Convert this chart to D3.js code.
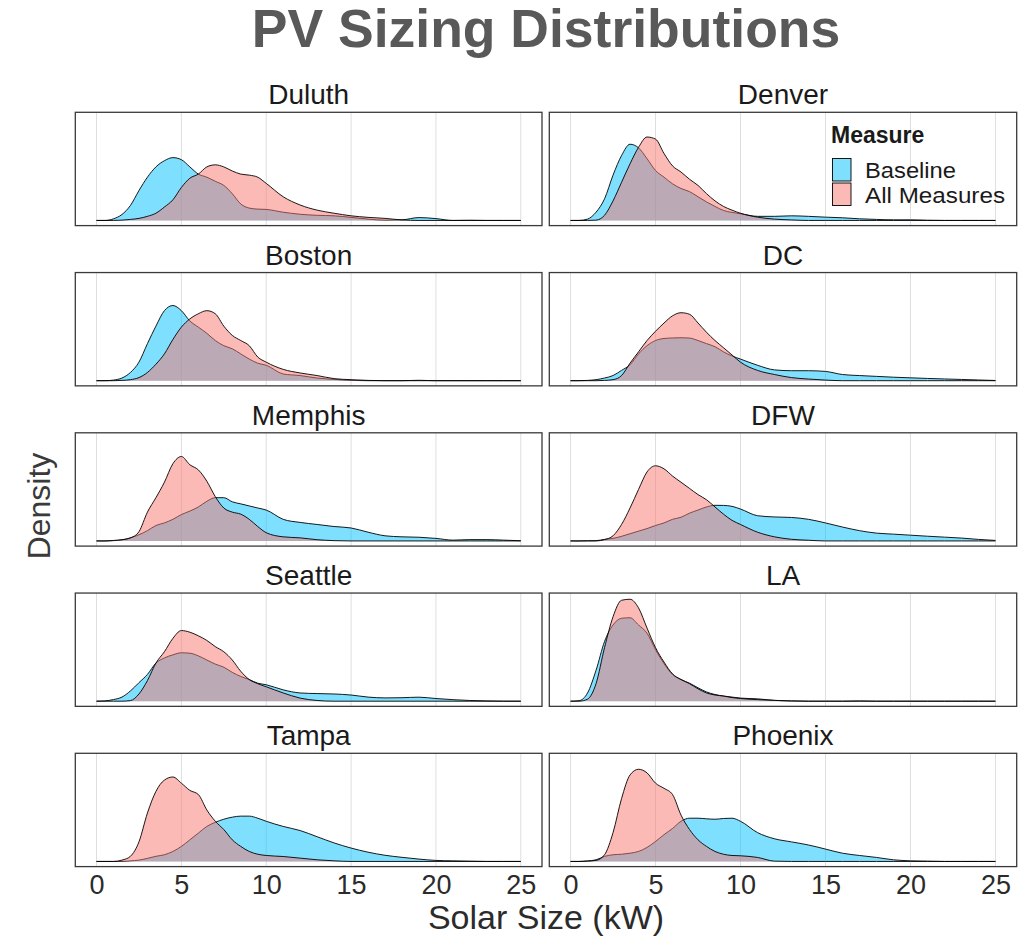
<!DOCTYPE html>
<html><head><meta charset="utf-8">
<script src="https://cdn.jsdelivr.net/npm/d3@7"></script>
<style>
body{margin:0;background:#fff}
text{font-family:"Liberation Sans", Arial, sans-serif}
</style>
</head><body>
<svg id="chart" width="1030" height="937"></svg>
<script>
const sizeKW = [0,0.5,1,1.5,2,2.5,3,3.5,4,4.5,5,5.5,6,6.5,7,7.5,8,8.5,9,9.5,10,11,12,13,14,15,16,17,18,19,20,21,22,23,24,25];
const xTicks = [0,5,10,15,20,25];
const cities = ["Duluth","Denver","Boston","DC","Memphis","DFW","Seattle","LA","Tampa","Phoenix"];
const measures = ["Baseline","All Measures"];
const measureColors = ["#00BFFF","#F8766D"];
const legendTextWidths = [91,140];

// Relative density (LA All Measures peak = 100)
const duluthBaseline   = [0,0,1.6,5.8,14.6,29,42,52,58,61,59,52,45,42,38,34,26,16,12,11,10.7, 8,6,5,4.5,3,1.3,0.3,0.6,2.8,1.8,0,0.2,0,0,0];
const duluthAll        = [0,0,0,0.3,1,2,4,7,13,20,32,41,45,52,54,52,48,45,44,42,36, 23,15,10,7,4.5,3,2,0.5,0,0,0,0,0,0,0];
const denverBaseline   = [0,0,1.3,8,21,44,63,74,70.5,60,48.5,42,35.6,31,28,23,18,13.6,9.7,7.8,6.5, 4,4,4.5,4,3.2,2.6,1.6,1,0.6,0.6,0.2,0,0,0,0];
const denverAll        = [0,0,0,0.3,5,19,37,55,71,81,79,65,53,47,40,34,26,19,13.6,10,7, 3.2,1.3,0.5,0,0,0,0,0,0,0,0,0,0,0,0];
const bostonBaseline   = [0,0,0.6,2.6,8,18,36,53,68,73,68,58,52,46,39,34,31,26,21,17,15, 6.5,5,2.6,1.3,0.3,0,0,0,0.4,0,0,0,0,0,0];
const bostonAll        = [0,0,0,0.3,1,3,8,16,26,40,52,60,65,68,65,53,44,39,34,23,18, 11,7.5,5,2,1,0.3,0,0,0,0,0,0,0,0,0];
const dcBaseline       = [0,0,0.3,1,2.6,5,10,15.5,26,34,39,41,41.5,41.7,41.4,39,36,33,28,24,21, 15,10.5,9.7,9.7,9,6,5,4.2,3.4,2.8,2.2,1.7,1.2,0.7,0.2];
const dcAll            = [0,0,0,0,0.3,1,5,17,28,39,48,56,63,66,64.5,56,47,39,32,25,18, 10,6,3,1.6,0.6,0,0,0,0,0,0,0,0,0,0];
const memphisBaseline  = [0,0,0.3,1,3,6,10,15,17.5,21,25.6,29,33,38.5,42,42,38,36,34,32,30, 21,18,16,14,12.6,8.5,5,4,3.6,2.5,0.8,1.3,1.3,0.8,0.2];
const memphisAll       = [0,0,0.5,1.2,3,9,28,42,57,75,82,74,69,58,43,32,28,26,21,14,8, 4,3,1.2,0.3,0,0,0,0,0,0,0,0,0,0,0];
const dfwBaseline      = [0,0,0.2,0.3,1.5,2.5,4.5,7,9.5,12,15,17.5,21,23,27,30,33,34.6,34.5,33.6,31, 24.5,23.3,22.8,21,17.5,13.5,10,7.6,6.6,5.6,4.6,3.7,2.8,1.5,0.5];
const dfwAll           = [0,0,0,0,1.3,5,16,32,50,67,73,70,63,57,51,45,40,33,26,20,16, 8.5,4,1.6,0.7,0,0,0,0,0,0,0,0,0,0,0];
const seattleBaseline  = [0,0.3,1.6,4,10,18,26,37,42,45,47,46.6,44,40,36,33,28,24,21,17.5,16, 11,8,7.4,7,6,4,3.2,3.4,3.9,2.6,1.5,0.7,0.3,0,0];
const seattleAll       = [0,0,0,0,0.6,7,20,37,48,61,68.6,67,63.5,59,53,48,40,29,21,17,14, 8,3,0.7,0,0,0,0,0,0,0,0,0,0,0,0];
const laBaseline       = [0,0.5,8,30,58,74,80.5,81,74,66,50,36.5,26,21,17.5,13,9,6.5,5,4,3, 2.3,0.8,0.2,0,0,0,0.3,0,0,0,0,0,0,0,0];
const laAll            = [0,0,2,17,52,82,98,99,90.6,71,52,38,26.5,21,17,12,8,6,5,3.5,2.6, 1.5,0.8,0.3,0,0,0,0,0,0,0,0,0,0,0,0];
const tampaBaseline    = [0,0,0,0,0.6,1.3,3,5,6.5,9.7,14.6,21,27.5,34,38,41,43,44,44,42,39, 34,30,24,18,13,9,6,4,2.3,1,0.6,0.3,0,0,0];
const tampaAll         = [0,0,0,1.3,5,19,47,68,79,82,76,69,65,50,39,31,21,14.6,9.7,7,5.8, 4.8,3.2,1.6,0.6,0,0,0,0,0,0,0,0,0,0,0];
const phoenixBaseline  = [0,0,0.5,1.6,4.9,6.5,7,8,9.7,13.6,19.4,26,32,39,42,42,41.4,41,41.7,42,39, 28,22,19,16,12,8,5.8,3.9,1.6,0.6,0.3,0,0,0,0];
const phoenixAll       = [0,0,0.3,1,6.5,28,61,84,89.5,86,76,71,65,45,31,21,14.6,9.7,7,5.8,5.5, 3.9,0.3,0,0,0,0,0,0,0,0,0,0,0,0,0];

const seriesByCity = {
  "Duluth":[duluthBaseline,duluthAll], "Denver":[denverBaseline,denverAll],
  "Boston":[bostonBaseline,bostonAll], "DC":[dcBaseline,dcAll],
  "Memphis":[memphisBaseline,memphisAll], "DFW":[dfwBaseline,dfwAll],
  "Seattle":[seattleBaseline,seattleAll], "LA":[laBaseline,laAll],
  "Tampa":[tampaBaseline,tampaAll], "Phoenix":[phoenixBaseline,phoenixAll]
};

const svg = d3.select("#chart");
const colX = [[75.3,542],[549.3,1016.7]];
const rowTop0 = 112.3, rowStep = 160.25, panelH = 113.3;
const yMax = 100;
const yPad = panelH*0.05/1.1;

// Title
svg.append("text").attr("x",546).attr("y",47).attr("text-anchor","middle")
  .attr("font-size",53.5).attr("font-weight","bold").attr("fill","#595959")
  .text("PV Sizing Distributions");

cities.forEach((city,i)=>{
  const col = i%2, row = Math.floor(i/2);
  const [x0,x1] = colX[col];
  const top = rowTop0 + row*rowStep, bottom = top+panelH;
  const x = d3.scaleLinear().domain([-1.25,26.25]).range([x0,x1]);
  const y = d3.scaleLinear().domain([0,yMax]).range([bottom-yPad, top+yPad]);
  const g = svg.append("g");
  const clipId = "clip"+i;
  svg.append("clipPath").attr("id",clipId).append("rect")
    .attr("x",x0).attr("y",top).attr("width",x1-x0).attr("height",panelH);
  // grid
  g.selectAll("line.grid").data(xTicks).join("line")
    .attr("x1",d=>x(d)).attr("x2",d=>x(d)).attr("y1",top).attr("y2",bottom)
    .attr("stroke","#DEDEDE").attr("stroke-width",1);
  const pg = g.append("g").attr("clip-path",`url(#${clipId})`);
  const area = d3.area().x((d,k)=>x(sizeKW[k])).y0(y(0)).y1(d=>y(d)).curve(d3.curveMonotoneX);
  const line = d3.line().x((d,k)=>x(sizeKW[k])).y(d=>y(d)).curve(d3.curveMonotoneX);
  seriesByCity[city].forEach((vals,m)=>{
    pg.append("path").attr("d",area(vals)).attr("fill",measureColors[m]).attr("fill-opacity",0.5);
    pg.append("path").attr("d",line(vals)).attr("fill","none").attr("stroke","#000").attr("stroke-width",0.9);
  });
  // border
  g.append("rect").attr("x",x0).attr("y",top).attr("width",x1-x0).attr("height",panelH)
    .attr("fill","none").attr("stroke","#3a3a3a").attr("stroke-width",1.3);
  // strip label
  svg.append("text").attr("x",(x0+x1)/2).attr("y",top-8).attr("text-anchor","middle")
    .attr("font-size",28).attr("fill","#1A1A1A").text(city);
  // x axis on bottom row
  if(row===4){
    const ax = svg.append("g").attr("transform",`translate(0,${bottom})`)
      .call(d3.axisBottom(x).tickValues(xTicks).tickSize(0).tickPadding(8));
    ax.select(".domain").remove();
    ax.selectAll("text").attr("font-size",27).attr("fill","#2b2b2b")
      .attr("font-family","Liberation Sans, Arial, sans-serif");
  }
});

// axis titles
svg.append("text").attr("x",546).attr("y",929).attr("text-anchor","middle")
  .attr("font-size",34).attr("fill","#2b2b2b").text("Solar Size (kW)");
svg.append("text").attr("transform","translate(50,506) rotate(-90)").attr("text-anchor","middle")
  .attr("font-size",32).attr("fill","#3a3a3a").text("Density");

// legend inside Denver panel
const lg = svg.append("g");
lg.append("text").attr("x",831).attr("y",143).attr("font-size",23).attr("font-weight","bold")
  .attr("fill","#1A1A1A").text("Measure");
measures.forEach((m,k)=>{
  const ty = 158.5 + k*24.5;
  lg.append("rect").attr("x",832.5).attr("y",ty).attr("width",18.5).attr("height",22.5)
    .attr("fill",measureColors[k]).attr("fill-opacity",0.5).attr("stroke","#000").attr("stroke-width",0.9);
  lg.append("text").attr("x",865).attr("y",ty+19.5).attr("font-size",22)
    .attr("textLength",legendTextWidths[k]).attr("lengthAdjust","spacingAndGlyphs")
    .attr("fill","#1A1A1A").text(m);
});
</script>
</body></html>
